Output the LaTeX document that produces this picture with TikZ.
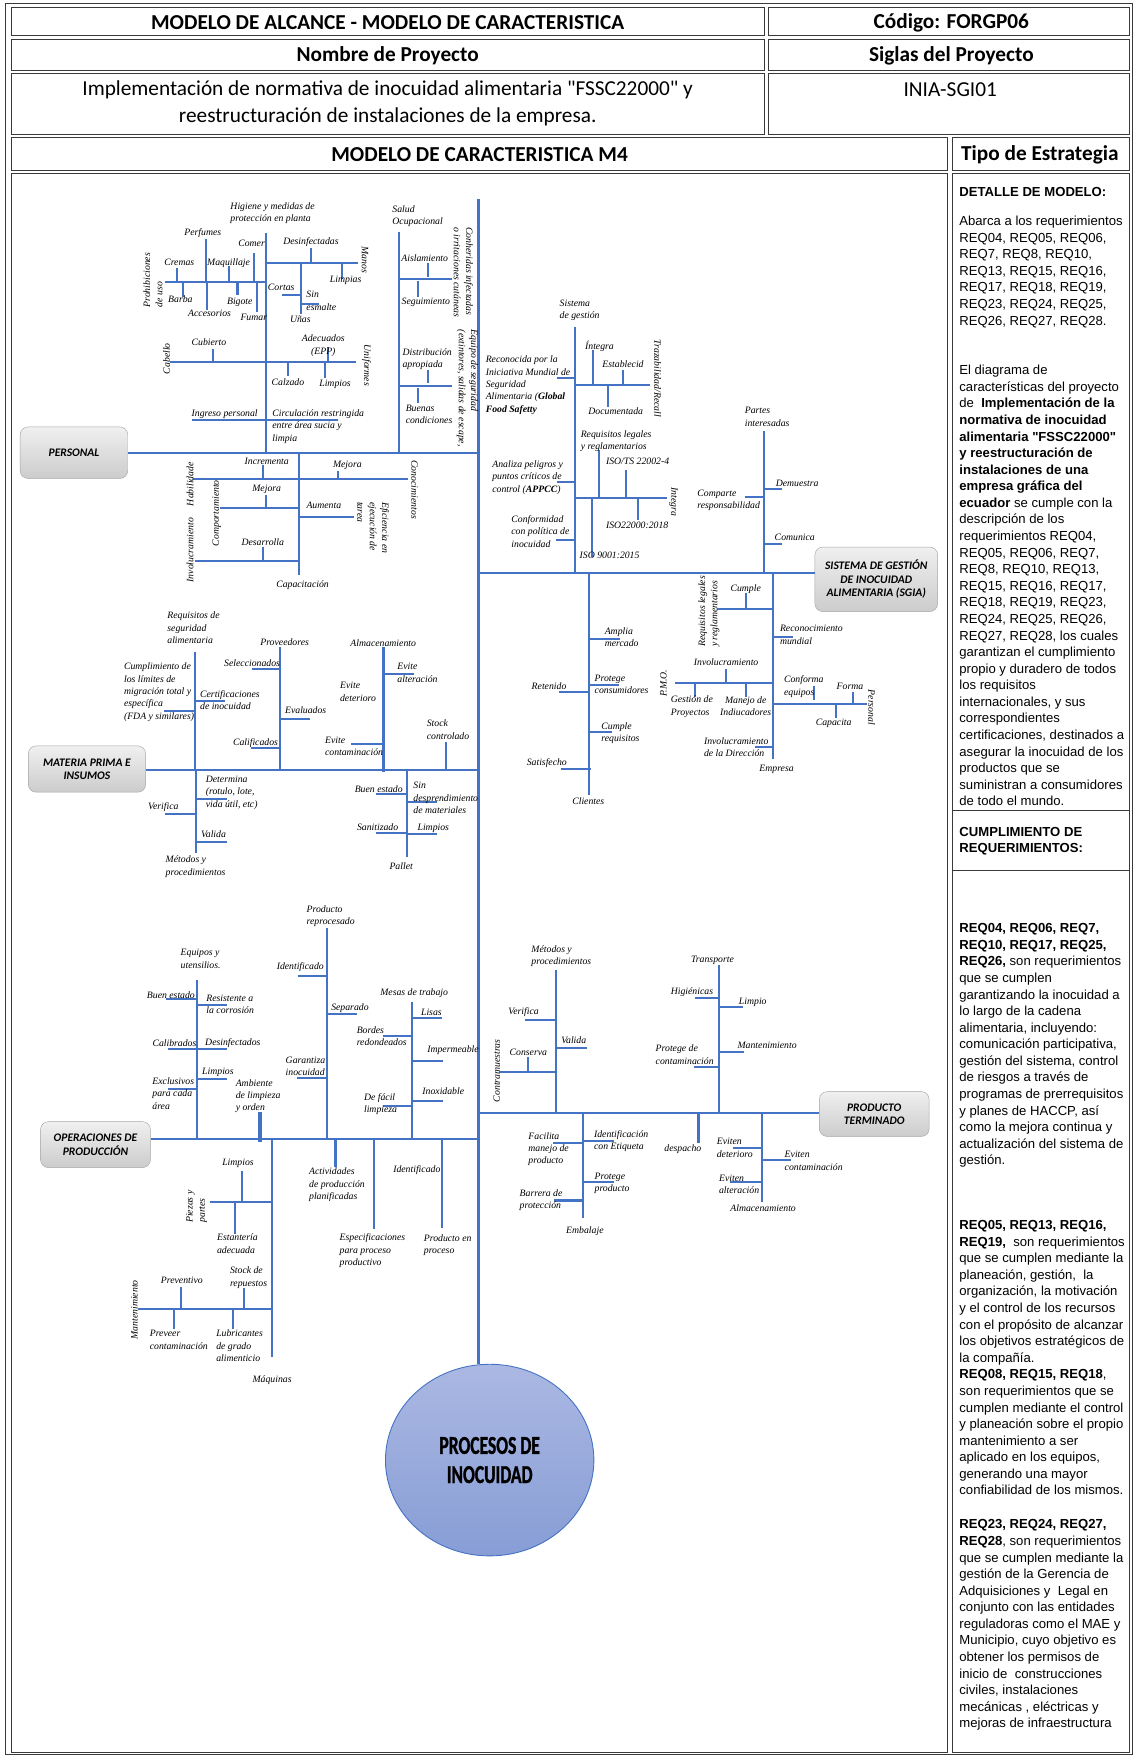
\documentclass[tikz,border=0pt]{standalone}
\usepackage{fontspec}
\setmainfont{Liberation Serif}
\newfontfamily\calib{Carlito}
\newfontfamily\arialf{Liberation Sans}
\newfontfamily\condf[FakeStretch=0.68,BoldFeatures={FakeBold=1.2}]{Carlito}
\usetikzlibrary{shapes.geometric}
\definecolor{azul}{HTML}{4472C4}
\definecolor{marco}{HTML}{3A3A3A}
\definecolor{lilaa}{HTML}{ABB8E3}
\definecolor{lilab}{HTML}{879DD5}
\newcommand{\etq}{\itshape\fontsize{8.7}{11}\selectfont}
\newcommand{\txtder}{\arialf\fontsize{11.7}{14.8}\selectfont}

\begin{document}
\begin{tikzpicture}[x=1pt,y=-1pt,
  rama/.style={draw=azul,line width=1.9pt},
  gruesa/.style={draw=azul,line width=3pt},
  et/.style={font=\etq,inner sep=0.5pt},
  etl/.style={et,anchor=west,align=left},
  etc/.style={et,align=center},
  giro/.style={et,rotate=90,align=left},
  giroi/.style={et,rotate=-90,align=left},
  caja/.style={draw=gray!70,rounded corners=7pt,top color=gray!12,bottom color=gray!40,
    font=\calib\bfseries\itshape\fontsize{10.3}{12}\selectfont,align=center,inner sep=0pt},
  celda/.style={draw=marco,line width=0.9pt},
  titulo/.style={font=\calib\bfseries\fontsize{19}{21}\selectfont,inner sep=0pt},
  texto/.style={font=\txtder,align=left,anchor=north west,inner sep=0pt}]
\useasboundingbox (0,0) rectangle (1012,1568);

\draw[marco,line width=1.2pt] (5,3) rectangle (1010.5,1566);
\draw[celda] (10,7) rectangle (682,32);
\draw[celda] (686,7) rectangle (1008,32);
\draw[celda] (10,35) rectangle (682,63);
\draw[celda] (686,35) rectangle (1008,63);
\draw[celda] (10,66) rectangle (682,120);
\draw[celda] (686,66) rectangle (1008,120);
\draw[celda] (10,123) rectangle (846,152);
\draw[celda] (850,123) rectangle (1008,152);
\draw[celda] (10,155) rectangle (846,1564);
\draw[celda] (850,155) rectangle (1008,1564);
\draw[celda] (850,723) -- (1008,723);
\draw[celda] (850,777) -- (1008,777);

\node[titulo] (tit) at (346,20) {MODELO DE ALCANCE - MODELO DE CARACTERISTICA};
\node[titulo] (cod) at (849,20) {Código: FORGP06};
\node[titulo] (nom) at (346,49.5) {Nombre de Proyecto};
\node[titulo] (sig) at (849,49.5) {Siglas del Proyecto};
\node[font=\calib\fontsize{19}{24}\selectfont,align=center,inner sep=0pt] (proy) at (346,92.5)
  {Implementación de normativa de inocuidad alimentaria "FSSC22000" y\\reestructuración de instalaciones de la empresa.};
\node[font=\calib\fontsize{19}{21}\selectfont,inner sep=0pt] (sigla) at (848,80) {INIA-SGI01};
\node[titulo] (m4) at (428,138) {MODELO DE CARACTERISTICA M4};
\node[titulo] (tipo) at (928,138) {Tipo de Estrategia};

\node[texto,font=\txtder\bfseries] (detm) at (856,164.8) {\strut DETALLE DE MODELO:};
\node[texto] (abar) at (856,190.8) {\strut Abarca a los requerimientos\\REQ04, REQ05, REQ06,\\REQ7, REQ8, REQ10,\\REQ13, REQ15, REQ16,\\REQ17, REQ18, REQ19,\\REQ23, REQ24, REQ25,\\REQ26, REQ27, REQ28.};
\node[texto] (desc) at (856,323.8) {\strut El diagrama de\\características del proyecto\\de \ \textbf{Implementación de la}\\\textbf{normativa de inocuidad}\\\textbf{alimentaria "FSSC22000"}\\\textbf{y reestructuración de}\\\textbf{instalaciones de una}\\\textbf{empresa gráfica del}\\\textbf{ecuador} se cumple con la\\descripción de los\\requerimientos REQ04,\\REQ05, REQ06, REQ7,\\REQ8, REQ10, REQ13,\\REQ15, REQ16, REQ17,\\REQ18, REQ19, REQ23,\\REQ24, REQ25, REQ26,\\REQ27, REQ28, los cuales\\garantizan el cumplimiento\\propio y duradero de todos\\los requisitos\\internacionales, y sus\\correspondientes\\certificaciones, destinados a\\asegurar la inocuidad de los\\productos que se\\suministran a consumidores\\de todo el mundo.};
\node[texto,font=\txtder\bfseries] (cumt) at (856,735.8) {\strut CUMPLIMIENTO DE\\REQUERIMIENTOS:};
\node[texto] (bl1) at (856,821.8) {\strut\textbf{REQ04, REQ06, REQ7,}\\\textbf{REQ10, REQ17, REQ25,}\\\textbf{REQ26,} son requerimientos\\que se cumplen\\garantizando la inocuidad a\\lo largo de la cadena\\alimentaria, incluyendo:\\comunicación participativa,\\gestión del sistema, control\\de riesgos a través de\\programas de prerrequisitos\\y planes de HACCP, así\\como la mejora continua y\\actualización del sistema de\\gestión.};
\node[texto] (bl2) at (856,1086.8) {\strut\textbf{REQ05, REQ13, REQ16,}\\\textbf{REQ19,} \ son requerimientos\\que se cumplen mediante la\\planeación, gestión, \ la\\organización, la motivación\\y el control de los recursos\\con el propósito de alcanzar\\los objetivos estratégicos de\\la compañía.\\\textbf{REQ08, REQ15, REQ18},\\son requerimientos que se\\cumplen mediante el control\\y planeación sobre el propio\\mantenimiento a ser\\aplicado en los equipos,\\generando una mayor\\confiabilidad de los mismos.};
\node[texto] (bl3) at (856,1353.8) {\strut\textbf{REQ23, REQ24, REQ27,}\\\textbf{REQ28}, son requerimientos\\que se cumplen mediante la\\gestión de la Gerencia de\\Adquisiciones y \ Legal en\\conjunto con las entidades\\reguladoras como el MAE y\\Municipio, cuyo objetivo es\\obtener los permisos de\\inicio de \ construcciones\\civiles, instalaciones\\mecánicas , eléctricas y\\mejoras de infraestructura};

\node[caja,minimum width=96pt,minimum height=46pt] (personal) at (66,404) {PERSONAL};
\node[caja,minimum width=109.5pt,minimum height=57.5pt] (sgia) at (782,517) {SISTEMA DE GESTIÓN\\DE INOCUIDAD\\ALIMENTARIA (SGIA)};
\node[caja,minimum width=104.7pt,minimum height=41.3pt] (mprima) at (77.6,686.3) {MATERIA PRIMA E\\INSUMOS};
\node[caja,minimum width=98pt,minimum height=40pt] (pterm) at (780.2,994.2) {PRODUCTO\\TERMINADO};
\node[caja,minimum width=98pt,minimum height=41pt] (oper) at (85.2,1021.5) {OPERACIONES DE\\PRODUCCIÓN};
\node[ellipse,draw=azul,line width=0.8pt,top color=lilaa,bottom color=lilab,inner sep=0pt,
  minimum width=186pt,minimum height=171pt,align=center,
  font=\condf\bfseries\fontsize{23}{26}\selectfont] (proc) at (437,1303) {PROCESOS DE\\INOCUIDAD};

\coordinate (esp) at (427,178);
\coordinate (ePer) at (427,404);
\coordinate (eSg) at (427,511);
\coordinate (eMp) at (427,687);
\coordinate (ePt) at (427,993);
\coordinate (eOp) at (427,1016.4);
\draw[rama] (esp) -- (esp |- proc.north);
\draw[rama] (personal) -- (ePer);
\draw[rama] (eSg) -- (sgia.west |- eSg);
\draw[rama] (mprima.east |- eMp) -- (eMp);
\draw[rama] (ePt) -- (pterm.west |- ePt);
\draw[rama] (oper.east |- eOp) -- (eOp);

\draw[rama] (237,208) -- (237,404);
\draw[rama] (147,252) -- (237,252);
\draw[rama] (158,239) -- (158,252);
\draw[rama] (184,213) -- (184,252);
\draw[rama] (204,237) -- (204,252);
\draw[rama] (227,226) -- (227,252);
\draw[rama] (163,252) -- (163,265);
\draw[rama] (185,252) -- (185,277);
\draw[rama] (212,252) -- (212,263);
\draw[rama] (229,252) -- (229,278);
\draw[rama] (237,234.4) -- (319.6,234.4);
\draw[rama] (277.2,221.6) -- (277.2,234.4);
\draw[rama] (304.9,234.4) -- (304.9,249);
\draw[rama] (268.3,234.4) -- (268.3,280);
\draw[rama] (251.4,263) -- (268.3,263);
\draw[rama] (268.3,271.6) -- (284.7,271.6);
\draw[rama] (151.7,322.8) -- (317.7,322.8);
\draw[rama] (190.4,311.7) -- (190.4,322.8);
\draw[rama] (293,309.4) -- (293,322.8);
\draw[rama] (256.7,322.8) -- (256.7,335.3);
\draw[rama] (290,322.8) -- (290,337);
\draw[rama] (171,374.8) -- (301.6,374.8);
\draw[rama] (356,206.7) -- (356,404);
\draw[rama] (356,249.3) -- (403,249.3);
\draw[rama] (382.2,234.4) -- (382.2,247.5);
\draw[rama] (373.3,251) -- (373.3,265.3);
\draw[rama] (356,344.2) -- (403,344.2);
\draw[rama] (382.2,330) -- (382.2,342);
\draw[rama] (373.3,346) -- (373.3,360);

\draw[rama] (267,404) -- (267,513);
\draw[rama] (172.5,427.5) -- (364.4,427.5);
\draw[rama] (235,415) -- (235,427.5);
\draw[rama] (302,420) -- (302,427.5);
\draw[rama] (196.3,453.6) -- (267,453.6);
\draw[rama] (237,441.7) -- (237,453.6);
\draw[rama] (267,461) -- (316,461);
\draw[rama] (174,500.3) -- (267,500.3);
\draw[rama] (235,487.8) -- (235,500.3);

\draw[rama] (513,292) -- (513,511);
\draw[rama] (513,343.6) -- (580,343.6);
\draw[rama] (529.5,312.3) -- (529.5,343.6);
\draw[rama] (556.2,330) -- (556.2,343.6);
\draw[rama] (542.3,343.6) -- (542.3,363);
\draw[rama] (496.8,337.6) -- (513,337.6);
\draw[rama] (496.8,430.4) -- (513,430.4);
\draw[rama] (496,481.9) -- (513,481.9);
\draw[rama] (513,444.7) -- (595.5,444.7);
\draw[rama] (534.5,401.6) -- (534.5,444.7);
\draw[rama] (558.6,419.4) -- (558.6,444.7);
\draw[rama] (569.6,444.7) -- (569.6,464);
\draw[rama] (528,444.7) -- (528,496.8);

\draw[rama] (682,384.3) -- (682,511);
\draw[rama] (682,436.7) -- (697.5,436.7);
\draw[rama] (664.8,443.8) -- (682,443.8);
\draw[rama] (682,485.4) -- (697.5,485.4);
\draw[rama] (690,511) -- (690,677.6);
\draw[rama] (639.6,543.5) -- (690,543.5);
\draw[rama] (665.4,529.5) -- (665.4,543.5);
\draw[rama] (690,568.2) -- (708,568.2);
\draw[rama] (602.4,609.8) -- (690,609.8);
\draw[rama] (647.9,597) -- (647.9,609.8);
\draw[rama] (620.5,609.8) -- (620.5,621.7);
\draw[rama] (665.7,609.8) -- (665.7,621.7);
\draw[rama] (690,628.2) -- (773.4,628.2);
\draw[rama] (726.7,612.2) -- (726.7,624.7);
\draw[rama] (761.5,617.3) -- (761.5,628.2);
\draw[rama] (745.7,628.2) -- (745.7,641);
\draw[rama] (673.8,666.3) -- (690,666.3);
\draw[rama] (525.9,511) -- (525.9,709.4);
\draw[rama] (525.9,570.5) -- (553.3,570.5);
\draw[rama] (525.9,611.3) -- (552.7,611.3);
\draw[rama] (499,617.2) -- (525.9,617.2);
\draw[rama] (525.9,652.9) -- (545.9,652.9);
\draw[rama] (500.6,686.5) -- (527,686.5);

\draw[rama] (174,581.5) -- (174,687);
\draw[rama] (146.3,634.2) -- (174,634.2);
\draw[rama] (174,625.3) -- (200.8,625.3);
\draw[rama] (174.6,687) -- (174.6,761.5);
\draw[rama] (174.6,713) -- (202.3,713);
\draw[rama] (147.2,726.4) -- (174.6,726.4);
\draw[rama] (174.6,751.1) -- (202.3,751.1);
\draw[rama] (249.9,577.7) -- (249.9,687);
\draw[rama] (224.6,597) -- (249.9,597);
\draw[rama] (249.9,641.6) -- (276.6,641.6);
\draw[rama] (223.7,667.8) -- (249.9,667.8);
\draw[gruesa] (342,577.7) -- (342,688.6);
\draw[rama] (342,601.5) -- (369.4,601.5);
\draw[rama] (313.2,664) -- (342,664);
\draw[rama] (398,661.9) -- (398,687);
\draw[rama] (362.9,687) -- (362.9,764.5);
\draw[rama] (335.2,708.5) -- (362.9,708.5);
\draw[rama] (362.9,716) -- (390.3,716);
\draw[rama] (335.2,743.6) -- (362.9,743.6);
\draw[rama] (362.9,744.5) -- (390.3,744.5);

\draw[rama] (175.5,874.5) -- (175.5,1016.4);
\draw[rama] (148.1,891.8) -- (175.5,891.8);
\draw[rama] (175.5,896.8) -- (202.3,896.8);
\draw[rama] (150.2,936.1) -- (202.9,936.1);
\draw[rama] (175.5,963.2) -- (202.3,963.2);
\draw[rama] (150.2,971.8) -- (175.5,971.8);
\draw[gruesa] (232,992.6) -- (232,1018.8);
\draw[rama] (291.5,828.4) -- (291.5,1016.4);
\draw[rama] (265.6,871) -- (291.5,871);
\draw[rama] (291.5,905.2) -- (318.3,905.2);
\draw[rama] (264.8,962.3) -- (291.5,962.3);
\draw[rama] (367.4,893.9) -- (367.4,1016.4);
\draw[rama] (367.4,908.1) -- (394.2,908.1);
\draw[rama] (341.5,924.5) -- (367.4,924.5);
\draw[rama] (367.4,946.8) -- (395.6,946.8);
\draw[rama] (341.5,987) -- (367.4,987);
\draw[rama] (367.4,982.5) -- (395,982.5);
\draw[rama] (242.4,1016.4) -- (242.4,1210.7);
\draw[rama] (187,1072.9) -- (242.4,1072.9);
\draw[rama] (216.3,1045) -- (216.3,1072.9);
\draw[rama] (210,1072.9) -- (210,1101.2);
\draw[rama] (123.5,1168.4) -- (242.4,1168.4);
\draw[rama] (161.6,1148.2) -- (161.6,1168.4);
\draw[rama] (218.1,1149.7) -- (218.1,1168.4);
\draw[rama] (155.3,1168.4) -- (155.3,1186.3);
\draw[rama] (208.2,1168.4) -- (208.2,1186.3);
\draw[gruesa] (299.2,1016.4) -- (299.2,1041.1);
\draw[rama] (333.5,1016.4) -- (333.5,1097);
\draw[rama] (394.2,1016.4) -- (394.2,1096.1);

\draw[rama] (495.9,865.6) -- (495.9,993);
\draw[rama] (468.5,910.2) -- (495.9,910.2);
\draw[rama] (495.9,935.5) -- (523.5,935.5);
\draw[rama] (445.6,956.9) -- (495.9,956.9);
\draw[rama] (471.5,943) -- (471.5,956.9);
\draw[rama] (641.6,861.1) -- (641.6,993);
\draw[rama] (620.2,890.9) -- (641.6,890.9);
\draw[rama] (641.6,898.9) -- (662.7,898.9);
\draw[rama] (641.6,939.1) -- (663.9,939.1);
\draw[rama] (619.3,952.5) -- (641.6,952.5);
\draw[rama] (520.5,993) -- (520.5,1087.2);
\draw[rama] (493.8,1019.7) -- (520.5,1019.7);
\draw[rama] (520.5,1017.9) -- (548.2,1017.9);
\draw[rama] (520.5,1055.1) -- (547.9,1055.1);
\draw[rama] (494.7,1071.4) -- (520.5,1071.4);
\draw[gruesa] (623.2,993) -- (623.2,1019.7);
\draw[rama] (679.7,993) -- (679.7,1072.4);
\draw[rama] (654.4,1024.8) -- (679.7,1024.8);
\draw[rama] (679.7,1035.2) -- (705.6,1035.2);
\draw[rama] (651.4,1055.1) -- (679.7,1055.1);

\node[etl] (higi) at (205,190.5) {Higiene y medidas de\\protección en planta};
\node[et] (perf) at (181,208) {Perfumes};
\node[et] (crem) at (160,234) {Cremas};
\node[et] (maqu) at (204,234.6) {Maquillaje};
\node[et] (come) at (224.5,217) {Comer};
\node[et] (barb) at (161,267) {Barba};
\node[et] (acce) at (187,280) {Accesorios};
\node[et] (bigo) at (214,269.5) {Bigote};
\node[et] (fuma) at (226.5,283) {Fumar};
\node[giro] (prohi) at (136.5,250) {Prohibiciones\\de uso};
\node[et] (desi) at (277.5,215.7) {Desinfectadas};
\node[et] (limpa) at (308.5,250) {Limpias};
\node[giroi] (mano) at (325.7,232) {Manos};
\node[et] (unas) at (268,285) {Uñas};
\node[et] (cort) at (251,256) {Cortas};
\node[etl] (sine) at (272.8,268.5) {Sin\\esmalte};
\node[et] (cubi) at (186.5,305) {Cubierto};
\node[giro] (cabe) at (148.7,320) {Cabello};
\node[etc] (adec) at (288.5,308.6) {Adecuados\\(EPP)};
\node[et] (calz) at (257,341) {Calzado};
\node[et] (limpo) at (299,343) {Limpios};
\node[giroi] (unif) at (327,326) {Uniformes};
\node[et] (ingr) at (200.5,369.5) {Ingreso personal};
\node[etl] (circ) at (242.4,380.7) {Circulación restringida\\entre área sucia y\\limpia};
\node[etl] (salu) at (349.5,193) {Salud\\Ocupacional};
\node[et] (aisl) at (379,230) {Aislamiento};
\node[et] (segu) at (380,269.8) {Seguimiento};
\node[giroi] (conh) at (413.5,243) {Conheridas infectadas\\o irritaciones cutáneas};
\node[etl] (dist) at (358.5,320.5) {Distribución\\apropiada};
\node[etl] (buen) at (361.4,369.6) {Buenas\\condiciones};
\node[giroi] (equi) at (417,346.5) {Equipo de seguridad\\(extintores, salidas de escape,};
\node[et] (capa) at (270,522) {Capacitación};
\node[et] (incr) at (238,412) {Incrementa};
\node[giro] (habi) at (169.5,432) {Habilidade};
\node[et] (mejo) at (238,436.4) {Mejora};
\node[giro] (comp) at (193.4,458) {Comportamiento};
\node[et] (desa) at (234.5,484) {Desarrolla};
\node[giro] (invo) at (169.5,491) {Involucramiento};
\node[et] (mejb) at (310,415) {Mejora};
\node[giroi] (cono) at (370,437) {Conocimientos};
\node[et] (aume) at (289,451) {Aumenta};
\node[giroi] (efic) at (333,471) {Eficiencia en\\ejecución de\\tarea};

\node[etl] (sist) at (498.8,276.7) {Sistema\\de gestión};
\node[et] (inte) at (535,309.4) {Íntegra};
\node[et] (esta) at (556,325) {Establecid};
\node[et] (docu) at (549.5,366.5) {Documentada};
\node[giroi] (traz) at (587,337.6) {Trazabilidad/Recall};
\node[etl] (reco) at (432.8,343.7) {Reconocida por la\\Iniciativa Mundial de\\Seguridad\\Alimentaria (\textbf{Global}\\\textbf{Food Safetty}};
\node[etl] (anal) at (438.7,426.1) {Analiza peligros y\\puntos críticos de\\control (\textbf{APPCC})};
\node[etl] (conf) at (455.7,474.4) {Conformidad\\con política de\\inocuidad};
\node[etl] (rleg) at (517.6,393.9) {Requisitos legales\\y reglamentarios};
\node[et] (isots) at (569,412) {ISO/TS 22002-4};
\node[et] (iso22) at (568.6,468.5) {ISO22000:2018};
\node[et] (iso9) at (544,496) {ISO 9001:2015};
\node[giroi] (intb) at (601,448) {Integra};

\node[etl] (part) at (664,371.9) {Partes\\interesadas};
\node[et,anchor=west] (demu) at (691.6,431.3) {Demuestra};
\node[etl] (compa) at (621.7,446.2) {Comparte\\responsabilidad};
\node[et,anchor=west] (comu) at (690.7,479.8) {Comunica};
\node[et] (empr) at (693,687) {Empresa};
\node[et] (cumg) at (665.5,525.6) {Cumple};
\node[giro] (rlegb) at (632.7,545.7) {Requisitos legales\\y reglamentarios};
\node[etl] (recm) at (695.4,566.5) {Reconocimiento\\mundial};
\node[et] (invm) at (648,590.5) {Involucramiento};
\node[etl] (gest) at (598,630.5) {Gestión de\\Proyectos};
\node[etc] (mane) at (665.5,630.5) {Manejo de\\Indiucadores};
\node[giro] (pmo) at (592,609.8) {P.M.O.};
\node[etl] (conq) at (699,612.8) {Conforma\\equipos};
\node[et] (form) at (758.5,612.8) {Forma};
\node[et] (capc) at (744,645.5) {Capacita};
\node[giroi] (pers) at (777.9,631.4) {Personal};
\node[etl] (invd) at (627.6,667) {Involucramiento\\de la Dirección};
\node[et] (clie) at (525,715.4) {Clientes};
\node[etl] (ampl) at (539,568.9) {Amplia\\mercado};
\node[etl] (prot) at (530,610.8) {Protege\\consumidores};
\node[et] (rete) at (490,612.2) {Retenido};
\node[etl] (cump) at (536,654) {Cumple\\requisitos};
\node[et] (sati) at (488,681.2) {Satisfecho};

\node[etl] (rseg) at (148.7,560.4) {Requisitos de\\seguridad\\alimentaria};
\node[etl] (cuml) at (110,617.6) {Cumplimiento de\\los límites de\\migración total y\\específica\\(FDA y similares)};
\node[etl] (cert) at (177.9,625) {Certificaciones\\de inocuidad};
\node[etl] (meto) at (147.2,773.4) {Métodos y\\procedimientos};
\node[etl] (dete) at (183,707.5) {Determina\\(rotulo, lote,\\vida útil, etc)};
\node[et] (veri) at (145.8,719.9) {Verifica};
\node[et] (vali) at (190.5,744.5) {Valida};
\node[et] (prov) at (254,573.2) {Proveedores};
\node[et] (sele) at (225,592) {Seleccionados};
\node[et] (eval) at (272.8,634.2) {Evaluados};
\node[et] (cali) at (228,663.3) {Calificados};
\node[et] (alma) at (342,574.1) {Almacenamiento};
\node[etl] (evia) at (354,600.5) {Evite\\alteración};
\node[etl] (evid) at (302.8,617.5) {Evite\\deterioro};
\node[etl] (evic) at (289.4,665.8) {Evite\\contaminación};
\node[etl] (stoc) at (380.2,651.3) {Stock\\controlado};
\node[et] (pall) at (358,773.4) {Pallet};
\node[et] (bues) at (338,704.1) {Buen estado};
\node[etl] (sind) at (368.3,712.2) {Sin\\desprendimiento\\de materiales};
\node[et] (sani) at (337,738.6) {Sanitizado};
\node[et] (limpm) at (386.7,739.2) {Limpios};

\node[etl] (equt) at (160.6,855.7) {Equipos y\\utensilios.};
\node[et] (bueo) at (152.5,887.9) {Buen estado};
\node[etl] (resi) at (183.5,896.4) {Resistente a\\la corrosión};
\node[et] (calb) at (155.7,931) {Calibrados};
\node[et] (desf) at (207.8,930.5) {Desinfectados};
\node[et] (limq) at (194.5,957.2) {Limpios};
\node[etl] (excl) at (135.3,976) {Exclusivos\\para cada\\área};
\node[etl] (ambi) at (209.7,978.2) {Ambiente\\de limpieza\\y orden};
\node[etl] (prre) at (273,817.3) {Producto\\reprocesado};
\node[et] (iden) at (268,862.7) {Identificado};
\node[et] (sepa) at (312.3,899.8) {Separado};
\node[etl] (gara) at (254.3,951.4) {Garantiza\\inocuidad};
\node[et] (mesa) at (369.6,886.4) {Mesas de trabajo};
\node[et] (lisa) at (385,903.7) {Lisas};
\node[etl] (bord) at (317.7,924.4) {Bordes\\redondeados};
\node[et] (impe) at (404.3,937.6) {Impermeable};
\node[etl] (defa) at (324.2,985.6) {De fácil\\limpieza};
\node[et] (inox) at (395.6,974.2) {Inoxidable};
\node[et] (maqn) at (242.8,1232) {Máquinas};
\node[et] (limr) at (212.4,1038.1) {Limpios};
\node[etl] (estn) at (193,1110) {Estantería\\adecuada};
\node[giro] (piez) at (175.4,1076.8) {Piezas y\\partes};
\node[et] (prev) at (162.3,1142.8) {Preventivo};
\node[etl] (stre) at (204.6,1140.3) {Stock de\\repuestos};
\node[etl] (pree) at (133,1195.8) {Preveer\\contaminación};
\node[etl] (lubr) at (192.3,1201) {Lubricantes\\de grado\\alimenticio};
\node[giro] (mant) at (120,1169) {Mantenimiento};
\node[etl] (acti) at (275.2,1057.3) {Actividades\\de producción\\planificadas};
\node[etl] (espe) at (302.4,1116.2) {Especificaciones\\para proceso\\productivo};
\node[etl] (pren) at (377.6,1111) {Producto en\\proceso};
\node[et] (idep) at (372,1044.1) {Identificado};

\node[etl] (metp) at (473.6,853.3) {Métodos y\\procedimientos};
\node[et] (verp) at (467.3,903.4) {Verifica};
\node[et] (valp) at (512,928.7) {Valida};
\node[et] (cons) at (471.5,939.1) {Conserva};
\node[giro] (cont) at (443.2,955.6) {Contramuestras};
\node[et] (tran) at (635.8,857.3) {Transporte};
\node[et] (higp) at (617.5,885) {Higiénicas};
\node[et] (limt) at (671.8,894.8) {Limpio};
\node[et] (manp) at (684.6,932.5) {Mantenimiento};
\node[etl] (prco) at (584.5,941.2) {Protege de\\contaminación};
\node[et] (emba) at (522,1098.3) {Embalaje};
\node[etl] (faci) at (470.9,1025.5) {Facilita\\manejo de\\producto};
\node[etl] (idet) at (529.5,1018.2) {Identificación\\con Etiqueta};
\node[etl] (prop) at (530,1056.1) {Protege\\producto};
\node[etl] (barr) at (463.1,1071.2) {Barrera de\\protección};
\node[et] (desp) at (609.4,1025.6) {despacho};
\node[et] (almp) at (681,1078.3) {Almacenamiento};
\node[etl] (evtd) at (639,1024.3) {Eviten\\deterioro};
\node[etl] (evtc) at (699.6,1035.9) {Eviten\\contaminación};
\node[etl] (evta) at (641,1056.7) {Eviten\\alteración};
\end{tikzpicture}
\end{document}
